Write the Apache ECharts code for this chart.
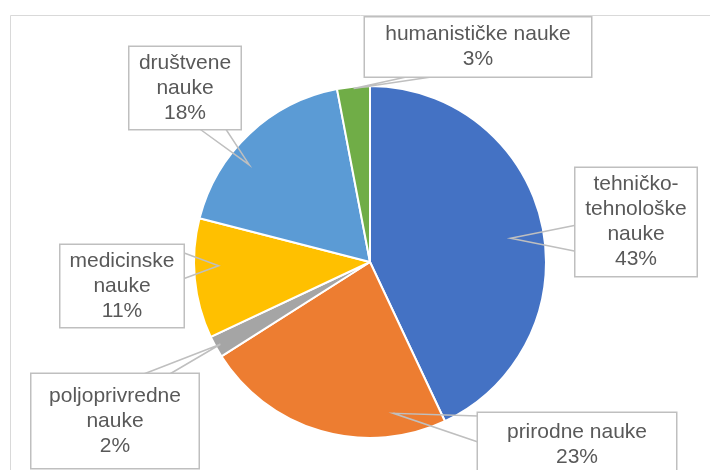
<!DOCTYPE html>
<html>
<head>
<meta charset="utf-8">
<script src="https://cdn.jsdelivr.net/npm/echarts@6/dist/echarts.min.js"></script>
<style>
  html, body { margin: 0; padding: 0; background: #fff; }
  #chart { width: 710px; height: 470px; }
</style>
</head>
<body>
<div id="chart"></div>
<script>
// podaci
const categories = [
  "tehničko-tehnološke nauke",
  "prirodne nauke",
  "poljoprivredne nauke",
  "medicinske nauke",
  "društvene nauke",
  "humanističke nauke",
];
const shares = [43, 23, 2, 11, 18, 3]; // procenti
// tekst u oblačićima (prelom redova kao na slici)
const labelTexts = [
  "tehničko-\ntehnološke\nnauke",
  "prirodne nauke",
  "poljoprivredne\nnauke",
  "medicinske\nnauke",
  "društvene\nnauke",
  "humanističke nauke",
];
const colors = ["#4472C4", "#ED7D31", "#A5A5A5", "#FFC000", "#5B9BD5", "#70AD47"];

const CENTER = [370, 262];
const RADIUS = 176;

// oblačići: centar, veličina, strana okrenuta ka isečku, dubina i zaokret vrha
const callouts = [
  { x: 636, y: 222, w: 121, h: 108, side: "left", tip: 0.81, rot: 3 },
  { x: 577, y: 445, w: 198, h: 64, side: "left", tip: 0.87, rot: -25 },
  { x: 115, y: 421, w: 167, h: 94, side: "top", tip: 0.97, rot: 0 },
  { x: 122, y: 286, w: 123, h: 82, side: "right", tip: 0.86, rot: 4 },
  { x: 185, y: 88, w: 111, h: 82, side: "bottom", tip: 0.88, rot: -8 },
  { x: 478, y: 47, w: 226, h: 59, side: "bottom", tip: 0.99, rot: 0 },
];

const clamp = (v, a, b) => Math.max(a, Math.min(b, v));

// klin oblačića: ivica -> vrh -> ivica
const wedge = (b, tip) => {
  const l = b.x - b.w / 2, r = b.x + b.w / 2;
  const t = b.y - b.h / 2, bt = b.y + b.h / 2;
  const half = 13;
  if (b.side === "left" || b.side === "right") {
    const ex = b.side === "left" ? l : r;
    const c = clamp(tip[1], t + b.h * 0.25, bt - b.h * 0.25);
    return [[ex, c - half], tip, [ex, c + half]];
  }
  const ey = b.side === "top" ? t : bt;
  const c = clamp(tip[0], l + b.w * 0.25, r - b.w * 0.25);
  return [[c - half, ey], tip, [c + half, ey]];
};

const pieData = categories.map((name, i) => ({ name: name, value: shares[i] }));

const myChart = echarts.init(document.getElementById("chart"));

const option = {
  animation: false,
  color: colors,
  graphic: [
    {
      type: "rect",
      left: 8,
      top: 13,
      shape: { width: 760, height: 520 },
      style: { fill: "none", stroke: "#D9D9D9", lineWidth: 1 },
      z: -1,
      silent: true,
    },
  ],
  series: [
    // isečci
    {
      type: "pie",
      center: CENTER,
      radius: RADIUS,
      startAngle: 90,
      clockwise: true,
      silent: true,
      itemStyle: { borderColor: "#fff", borderWidth: 2 },
      label: { show: false },
      labelLine: { show: false },
      data: pieData,
    },
    // providni sloj sa oblačićima iznad isečaka
    {
      type: "pie",
      z: 5,
      center: CENTER,
      radius: RADIUS,
      startAngle: 90,
      clockwise: true,
      silent: true,
      avoidLabelOverlap: false,
      itemStyle: { color: "rgba(0,0,0,0)", borderWidth: 0 },
      label: {
        show: true,
        position: "outside",
        overflow: "none",
        formatter: (p) => labelTexts[p.dataIndex] + "\n" + p.value + "%",
        color: "#595959",
        opacity: 1,
        fontFamily: "Liberation Sans, Arial, sans-serif",
        fontSize: 21,
        lineHeight: 25,
        backgroundColor: "#fff",
        borderColor: "#BFBFBF",
        borderWidth: 1.5,
        padding: 0,
      },
      labelLine: {
        show: true,
        smooth: false,
        lineStyle: { color: "#BFBFBF", width: 1.5, opacity: 1 },
      },
      labelLayout: (params) => {
        const b = callouts[params.dataIndex];
        const p0 = params.labelLinePoints[0];
        const vx = (p0[0] - CENTER[0]) * b.tip;
        const vy = (p0[1] - CENTER[1]) * b.tip;
        const a = (b.rot * Math.PI) / 180;
        const tip = [
          CENTER[0] + vx * Math.cos(a) - vy * Math.sin(a),
          CENTER[1] + vx * Math.sin(a) + vy * Math.cos(a),
        ];
        return {
          x: b.x,
          y: b.y,
          align: "center",
          verticalAlign: "middle",
          width: b.w,
          height: b.h,
          labelLinePoints: wedge(b, tip),
        };
      },
      data: pieData,
    },
  ],
};

myChart.setOption(option);
window.addEventListener("resize", () => myChart.resize());
</script>
</body>
</html>
